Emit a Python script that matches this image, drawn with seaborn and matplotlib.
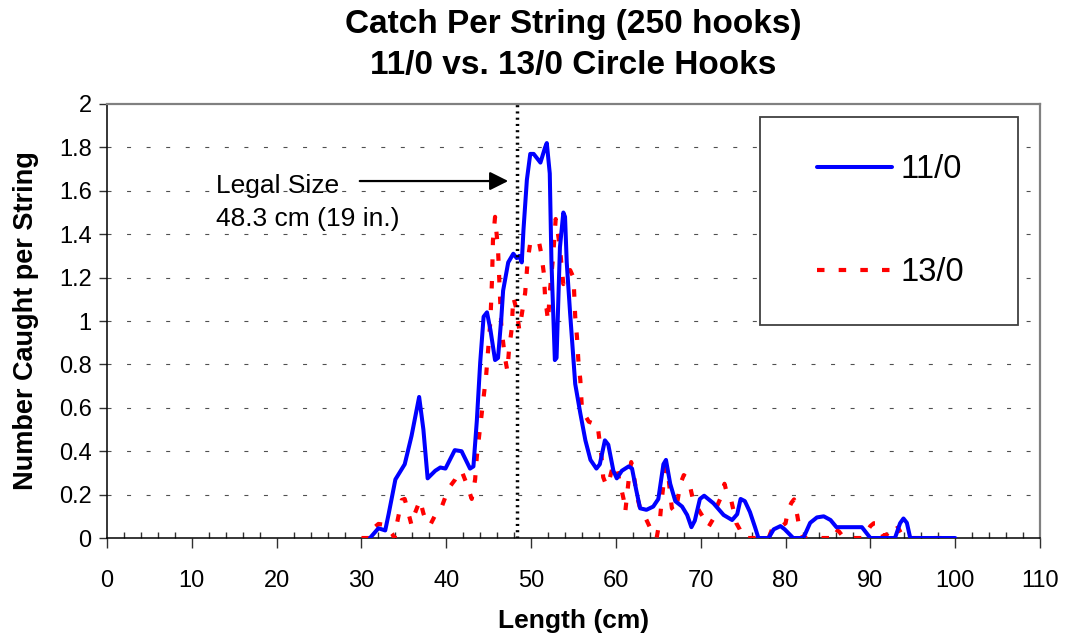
import matplotlib
matplotlib.use("Agg")
import matplotlib.pyplot as plt
from matplotlib.patches import Rectangle
from matplotlib.ticker import MultipleLocator, FuncFormatter
import seaborn as sns
import pandas as pd

# ---- data ----
len_11 = [31.0, 32.0, 32.8, 33.2, 34.0, 35.1, 35.9, 36.8, 37.3, 37.8, 38.7, 39.3, 39.9,
          41.0, 41.8, 42.8, 43.2, 43.6, 44.0, 44.4, 44.8, 45.2, 45.75, 46.1, 46.5, 46.7,
          47.3, 47.9, 48.3, 48.6, 48.9, 49.1, 49.5, 49.9, 50.3, 51.1, 51.65, 51.85, 52.2,
          52.4, 52.8, 53.0, 53.4, 53.8, 54.0, 54.2, 54.6, 55.2, 55.8, 56.4, 57.0, 57.7,
          58.1, 58.7, 59.1, 59.7, 60.1, 60.7, 61.5, 61.9, 62.4, 62.85, 63.6, 64.4, 65.0,
          65.6, 65.9, 66.4, 67.0, 67.8, 68.4, 68.9, 69.3, 69.9, 70.4, 71.5, 72.7, 73.7,
          74.3, 74.7, 75.2, 75.8, 76.4, 76.8, 78.0, 78.6, 79.4, 79.9, 80.9, 82.1, 82.9,
          83.7, 84.5, 85.3, 86.0, 89.0, 90.0, 92.9, 93.5, 93.9, 94.3, 94.7, 100.0]
catch_11 = [0, 0.045, 0.035, 0.11, 0.27, 0.34, 0.47, 0.65, 0.5, 0.275, 0.31, 0.325, 0.32,
            0.405, 0.40, 0.32, 0.33, 0.54, 0.81, 1.02, 1.04, 0.96, 0.82, 0.83, 1.02, 1.14,
            1.27, 1.31, 1.29, 1.30, 1.27, 1.42, 1.65, 1.77, 1.77, 1.73, 1.80, 1.82, 1.68,
            1.27, 0.82, 0.83, 1.34, 1.50, 1.48, 1.27, 1.035, 0.71, 0.575, 0.45, 0.36, 0.32,
            0.34, 0.45, 0.43, 0.31, 0.275, 0.31, 0.33, 0.32, 0.22, 0.137, 0.13, 0.145, 0.18,
            0.34, 0.36, 0.25, 0.17, 0.145, 0.106, 0.05, 0.08, 0.18, 0.195, 0.16, 0.106, 0.083,
            0.11, 0.18, 0.17, 0.12, 0.05, 0, 0, 0.04, 0.055, 0.04, 0, 0, 0.07,
            0.095, 0.10, 0.083, 0.05, 0.05, 0, 0, 0.068, 0.09, 0.07, 0, 0]

len_13 = [30.0, 31.0, 31.4, 32.0, 32.8, 33.6, 33.9, 34.2, 34.75, 35.1, 35.5, 35.9, 36.3,
          36.9, 37.3, 37.7, 38.1, 38.7, 39.4, 39.9, 40.4, 41.0, 41.4, 41.8, 42.4, 43.0,
          43.4, 43.6, 43.9, 44.4, 44.7, 45.0, 45.2, 45.4, 45.5, 45.75, 46.1, 46.3, 46.5,
          46.9, 47.2, 47.4, 47.7, 47.9, 48.3, 48.6, 48.9, 49.3, 49.6, 49.9, 50.5, 50.9,
          51.2, 51.5, 51.65, 52.0, 52.2, 52.6, 52.9, 53.1, 53.4, 53.6, 53.8, 54.2, 54.6,
          55.0, 55.2, 55.4, 55.6, 55.8, 56.0, 56.8, 57.2, 57.8, 58.1, 58.3, 58.5, 58.9,
          59.3, 59.7, 60.1, 60.5, 60.9, 61.1, 61.5, 61.8, 62.1, 62.5, 62.85, 63.4, 64.0,
          64.8, 65.2, 65.4, 65.7, 65.9, 66.2, 66.4, 66.6, 67.0, 67.3, 67.6, 68.0, 68.3,
          68.75, 69.1, 69.9, 70.5, 70.9, 71.5, 71.9, 72.4, 72.8, 73.0, 73.5, 73.8, 74.2,
          74.6, 75.0, 78.0, 78.4, 78.8, 79.4, 80.0, 80.3, 80.7, 81.0, 81.4, 81.7, 82.1,
          85.3, 85.7, 86.3, 86.9, 89.2, 89.6, 90.0, 90.4, 90.8, 91.2, 91.5, 91.9, 92.3,
          92.7, 93.1, 93.5, 93.8, 94.3, 100.0]
catch_13 = [0, 0, 0.045, 0.065, 0.06, 0.02, 0, 0.07, 0.175, 0.18, 0.12, 0.06, 0.114,
            0.175, 0.114, 0.068, 0.06, 0.106, 0.137, 0.19, 0.236, 0.267, 0.298, 0.31, 0.25, 0.18,
            0.27, 0.375, 0.48, 0.65, 0.75, 0.9, 1.0, 1.2, 1.37, 1.48, 1.33, 1.14, 0.97,
            0.835, 0.77, 0.87, 0.96, 1.11, 1.05, 0.96, 1.03, 1.13, 1.28, 1.36, 1.37, 1.37,
            1.31, 1.22, 1.11, 1.0, 1.13, 1.30, 1.47, 1.42, 1.34, 1.25, 1.17, 1.22, 1.235,
            1.2, 1.02, 0.93, 0.8, 0.73, 0.59, 0.536, 0.53, 0.53, 0.44, 0.375, 0.28, 0.24,
            0.28, 0.34, 0.32, 0.25, 0.18, 0.12, 0.267, 0.35, 0.29, 0.19, 0.137, 0.1, 0.05,
            0, 0.09, 0.175, 0.28, 0.33, 0.28, 0.2, 0.137, 0.12, 0.18, 0.25, 0.29, 0.28,
            0.236, 0.175, 0.12, 0.083, 0.05, 0.09, 0.145, 0.19, 0.25, 0.22, 0.19, 0.137, 0.068,
            0.04, 0, 0, 0.04, 0.055, 0.05, 0.068, 0.13, 0.163, 0.178, 0.1, 0.03, 0,
            0, 0.045, 0.03, 0, 0, 0.03, 0.055, 0.068, 0.068, 0.035, 0.01, 0.015, 0.035,
            0.06, 0.06, 0.03, 0.01, 0, 0]

series_labels = ["11/0", "13/0"]
legal_size = 48.3
title_lines = ["Catch Per String (250 hooks)", "11/0 vs. 13/0 Circle Hooks"]
x_label = "Length (cm)"
y_label = "Number Caught per String"
note_lines = ["Legal Size", "48.3 cm (19 in.)"]

df11 = pd.DataFrame({"len": len_11, "catch": catch_11})
df13 = pd.DataFrame({"len": len_13, "catch": catch_13})

# ---- figure ----
sns.set_style("white")
plt.rcParams["font.family"] = ["Liberation Sans", "DejaVu Sans"]
plt.rcParams["text.color"] = "black"
plt.rcParams["axes.labelcolor"] = "black"
plt.rcParams["xtick.color"] = "black"
plt.rcParams["ytick.color"] = "black"

fig = plt.figure(figsize=(10.68, 6.38), dpi=100)
ax = fig.add_axes([0.1002, 0.1567, 0.8736, 0.6803])

# grid
for yv in [0.2 * i for i in range(1, 10)]:
    ax.axhline(yv, color="#505050", lw=0.8, dashes=(3.6, 14), zorder=0.5)

sns.lineplot(data=df13, x="len", y="catch", ax=ax, color="#FF0000", lw=3,
             linestyle=(0, (1.8, 3.4)), label=series_labels[1], zorder=3,
             estimator=None, sort=False)
sns.lineplot(data=df11, x="len", y="catch", ax=ax, color="#0000FF", lw=2.9,
             label=series_labels[0], zorder=4, estimator=None, sort=False)

ax.axvline(legal_size, color="black", lw=2.5, linestyle=(0, (0.6, 1.2)), zorder=5)

ax.set_xlim(0, 110)
ax.set_ylim(0, 2)
ax.xaxis.set_major_locator(MultipleLocator(10))
ax.xaxis.set_minor_locator(MultipleLocator(2))
ax.yaxis.set_major_locator(MultipleLocator(0.2))
ax.yaxis.set_major_formatter(FuncFormatter(lambda v, p: f"{v:g}"))
ax.tick_params(axis="x", which="major", direction="out", length=7, width=1,
               labelsize=17, pad=16, bottom=True, color="#303030")
ax.tick_params(axis="x", which="minor", direction="in", length=4, width=1,
               bottom=True, color="#303030")
ax.tick_params(axis="y", which="major", direction="out", length=6, width=1,
               labelsize=17, pad=5, left=True, color="#303030")

for s in ["left", "bottom"]:
    ax.spines[s].set_color("black")
    ax.spines[s].set_linewidth(1.1)
for s in ["top", "right"]:
    ax.spines[s].set_visible(True)
    ax.spines[s].set_color("#808080")
    ax.spines[s].set_linewidth(1.6)

ax.set_xlabel(x_label, fontsize=19, fontweight="bold", labelpad=12)
ax.set_ylabel(y_label, fontsize=19.5, fontweight="bold", labelpad=14)

fig.text(0.5365, 0.962, title_lines[0], ha="center", va="center",
         fontsize=24, fontweight="bold")
fig.text(0.5365, 0.898, title_lines[1], ha="center", va="center",
         fontsize=24, fontweight="bold")

# annotation
ax.text(12.85, 1.620, note_lines[0], fontsize=19, ha="left", va="center")
ax.text(12.85, 1.472, note_lines[1], fontsize=19, ha="left", va="center")
ax.annotate("", xy=(47.3, 1.645), xytext=(29.8, 1.645),
            arrowprops=dict(arrowstyle="-|>", color="black", lw=1.6,
                            mutation_scale=28, shrinkA=0, shrinkB=0), zorder=6)

# legend box
ax.add_patch(Rectangle((0.700, 0.491), 0.276, 0.479, transform=ax.transAxes,
                       facecolor="white", edgecolor="#404040", lw=1.3, zorder=7))
handles, labels = ax.get_legend_handles_labels()
order = [labels.index(series_labels[0]), labels.index(series_labels[1])]
leg = ax.legend([handles[i] for i in order], [labels[i] for i in order],
                loc="center", bbox_to_anchor=(0.840, 0.730), frameon=False,
                fontsize=23.5, handlelength=2.3, handletextpad=0.25,
                labelspacing=2.2, borderpad=0)
leg.set_zorder(8)

fig.savefig("out.png", dpi=100, facecolor="white")
